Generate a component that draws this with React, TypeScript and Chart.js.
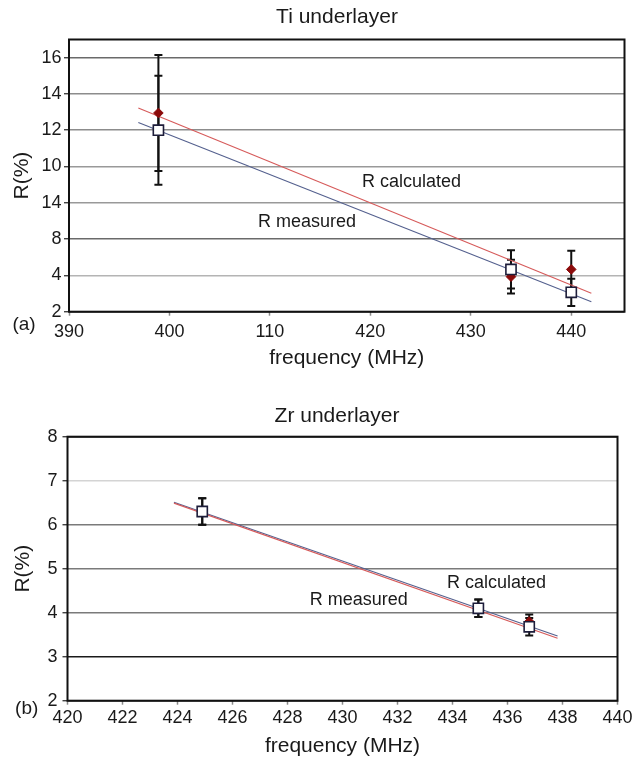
import React, { useEffect, useRef } from "react";
import { Chart, registerables } from "chart.js";

Chart.register(...registerables);

const FONT = '"Liberation Sans", Arial, Helvetica, sans-serif';

// ---------- Panel (a): Ti underlayer ----------
const tiFreq = [398.9, 434.0, 440.0];
const tiMeasured = [12.0, 4.33, 3.07];
const tiMeasuredErr = [3.0, 1.05, 0.75];
const tiCalculated = [12.95, 3.93, 4.33];
const tiCalculatedErr = [3.2, 0.93, 1.03];
const tiCalcLineX = [396.9, 442.0];
const tiCalcLineY = [13.23, 3.02];
const tiMeasLineX = [396.9, 442.0];
const tiMeasLineY = [12.42, 2.55];
const tiXTickValues = [390, 400, 410, 420, 430, 440];
const tiXTickLabels = ["390", "400", "110", "420", "430", "440"];
const tiYTickValues = [2, 4, 6, 8, 10, 12, 14, 16];
const tiYTickLabels = ["2", "4", "8", "14", "10", "12", "14", "16"];

// ---------- Panel (b): Zr underlayer ----------
const zrFreq = [424.9, 434.94, 436.79];
const zrMeasured = [6.3, 4.1, 3.68];
const zrMeasuredErr = [0.3, 0.2, 0.2];
const zrCalculated = [6.3, 4.1, 3.8];
const zrCalculatedErr = [0.3, 0.2, 0.16];
const zrCalcLineX = [423.87, 437.82];
const zrCalcLineY = [6.49, 3.42];
const zrMeasLineX = [423.87, 437.82];
const zrMeasLineY = [6.51, 3.47];
const zrXTickValues = [420, 422, 424, 426, 428, 430, 432, 434, 436, 438, 440];
const zrXTickLabels = ["420", "422", "424", "426", "428", "430", "432", "434", "436", "438", "440"];
const zrYTickValues = [2, 3, 4, 5, 6, 7, 8];
const zrYTickLabels = ["2", "3", "4", "5", "6", "7", "8"];

// ---------- styles ----------
const tiGridColors: Record<number, string> = {
  2: "#111", 4: "#b4b4b4", 6: "#6a6a6a", 8: "#999", 10: "#999", 12: "#8c8c8c", 14: "#8c8c8c", 16: "#6a6a6a",
};
const zrGridColors: Record<number, string> = {
  2: "#111", 3: "#1a1a1a", 4: "#7a7a7a", 5: "#7a7a7a", 6: "#7a7a7a", 7: "#d4d4d4", 8: "#111",
};

type Panel = {
  title: string;
  letter: string;
  freq: number[];
  measured: number[];
  measuredErr: number[];
  calculated: number[];
  calculatedErr: number[];
  calcLineX: number[];
  calcLineY: number[];
  measLineX: number[];
  measLineY: number[];
  xTicks: number[];
  xLabels: string[];
  yTicks: number[];
  yLabels: string[];
  xMin: number;
  xMax: number;
  yMin: number;
  yMax: number;
  gridColors: Record<number, string>;
  calcText: [number, number];
  measText: [number, number];
  layout: {
    height: number;
    padTop: number;
    padRight: number;
    yWidth: number;
    xHeight: number;
    xTickPad: number;
    yTickPad: number;
    xTitlePad: number;
    yTitlePad: number;
    titleX: number;
    titleBaseline: number;
    letterX: number;
    letterY: number;
  };
};

const panels: Panel[] = [
  {
    title: "Ti underlayer",
    letter: "(a)",
    freq: tiFreq,
    measured: tiMeasured,
    measuredErr: tiMeasuredErr,
    calculated: tiCalculated,
    calculatedErr: tiCalculatedErr,
    calcLineX: tiCalcLineX,
    calcLineY: tiCalcLineY,
    measLineX: tiMeasLineX,
    measLineY: tiMeasLineY,
    xTicks: tiXTickValues,
    xLabels: tiXTickLabels,
    yTicks: tiYTickValues,
    yLabels: tiYTickLabels,
    xMin: 390,
    xMax: 445.3,
    yMin: 2,
    yMax: 17,
    gridColors: tiGridColors,
    calcText: [424.1, 9.15],
    measText: [413.7, 6.95],
    layout: {
      height: 380,
      padTop: 39.5,
      padRight: 11.5,
      yWidth: 69,
      xHeight: 68.3,
      xTickPad: 5.5,
      yTickPad: 2.5,
      xTitlePad: 9.4,
      yTitlePad: 9.4,
      titleX: 337,
      titleBaseline: 22.7,
      letterX: 24,
      letterY: 325,
    },
  },
  {
    title: "Zr underlayer",
    letter: "(b)",
    freq: zrFreq,
    measured: zrMeasured,
    measuredErr: zrMeasuredErr,
    calculated: zrCalculated,
    calculatedErr: zrCalculatedErr,
    calcLineX: zrCalcLineX,
    calcLineY: zrCalcLineY,
    measLineX: zrMeasLineX,
    measLineY: zrMeasLineY,
    xTicks: zrXTickValues,
    xLabels: zrXTickLabels,
    yTicks: zrYTickValues,
    yLabels: zrYTickLabels,
    xMin: 420,
    xMax: 440,
    yMin: 2,
    yMax: 8,
    gridColors: zrGridColors,
    calcText: [435.6, 4.67],
    measText: [430.59, 4.29],
    layout: {
      height: 381,
      padTop: 56.7,
      padRight: 18.5,
      yWidth: 67.5,
      xHeight: 60.3,
      xTickPad: 3,
      yTickPad: 5,
      xTitlePad: 2.6,
      yTitlePad: 10.8,
      titleX: 337,
      titleBaseline: 41.7,
      letterX: 26.7,
      letterY: 328.3,
    },
  },
];

function buildConfig(p: Panel): any {
  const L = p.layout;
  const decor = {
    id: "decor",
    beforeDatasetsDraw(chart: any) {
      const { ctx, chartArea: a, scales } = chart;
      const x = scales.x;
      const y = scales.y;
      ctx.save();
      ctx.strokeStyle = "#111";
      ctx.lineWidth = 2;
      ctx.strokeRect(a.left, a.top, a.right - a.left, a.bottom - a.top);
      ctx.lineWidth = 2;
      ctx.strokeStyle = "#111";
      const series = [
        { v: p.calculated, e: p.calculatedErr },
        { v: p.measured, e: p.measuredErr },
      ];
      for (const s of series) {
        for (let i = 0; i < p.freq.length; i++) {
          const px = x.getPixelForValue(p.freq[i]);
          const t = y.getPixelForValue(s.v[i] + s.e[i]);
          const b = y.getPixelForValue(s.v[i] - s.e[i]);
          ctx.beginPath();
          ctx.moveTo(px, t);
          ctx.lineTo(px, b);
          ctx.moveTo(px - 4, t);
          ctx.lineTo(px + 4, t);
          ctx.moveTo(px - 4, b);
          ctx.lineTo(px + 4, b);
          ctx.stroke();
        }
      }
      ctx.restore();
    },
    afterDraw(chart: any) {
      const { ctx, scales } = chart;
      const x = scales.x;
      const y = scales.y;
      ctx.save();
      ctx.fillStyle = "#1a1a1a";
      ctx.textAlign = "center";
      ctx.textBaseline = "alphabetic";
      ctx.font = `21px ${FONT}`;
      ctx.fillText(p.title, L.titleX, L.titleBaseline);
      ctx.textBaseline = "middle";
      ctx.font = `19px ${FONT}`;
      ctx.fillText(p.letter, L.letterX, L.letterY);
      ctx.font = `18px ${FONT}`;
      ctx.fillText("R calculated", x.getPixelForValue(p.calcText[0]), y.getPixelForValue(p.calcText[1]));
      ctx.fillText("R measured", x.getPixelForValue(p.measText[0]), y.getPixelForValue(p.measText[1]));
      ctx.restore();
    },
  };

  return {
    type: "scatter",
    data: {
      datasets: [
        {
          label: "R measured",
          data: p.freq.map((f, i) => ({ x: f, y: p.measured[i] })),
          pointStyle: "rect",
          pointRadius: 7.2,
          backgroundColor: "#ffffff",
          borderColor: "#1d1d3a",
          borderWidth: 1.6,
          showLine: false,
        },
        {
          label: "R calculated",
          data: p.freq.map((f, i) => ({ x: f, y: p.calculated[i] })),
          pointStyle: "rectRot",
          pointRadius: 4.8,
          backgroundColor: "#8b0a0a",
          borderColor: "#8b0a0a",
          borderWidth: 1,
          showLine: false,
        },
        {
          label: "calc fit",
          data: p.calcLineX.map((f, i) => ({ x: f, y: p.calcLineY[i] })),
          showLine: true,
          pointRadius: 0,
          borderColor: "#d65a5a",
          borderWidth: 1.1,
        },
        {
          label: "meas fit",
          data: p.measLineX.map((f, i) => ({ x: f, y: p.measLineY[i] })),
          showLine: true,
          pointRadius: 0,
          borderColor: "#54608e",
          borderWidth: 1.1,
        },
      ],
    },
    options: {
      responsive: false,
      maintainAspectRatio: false,
      animation: false,
      devicePixelRatio: 1,
      layout: { padding: { top: L.padTop, right: L.padRight, bottom: 0, left: 0 } },
      plugins: {
        legend: { display: false },
        title: { display: false },
        tooltip: { enabled: false },
      },
      scales: {
        x: {
          type: "linear",
          position: "bottom",
          min: p.xMin,
          max: p.xMax,
          afterBuildTicks: (s: any) => {
            s.ticks = p.xTicks.map((v) => ({ value: v }));
          },
          afterFit: (s: any) => {
            s.height = L.xHeight;
          },
          border: { display: false },
          grid: {
            display: true,
            drawOnChartArea: false,
            drawTicks: true,
            tickLength: 4,
            tickColor: "#8a8a8a",
            tickWidth: 1.5,
          },
          ticks: {
            autoSkip: false,
            maxRotation: 0,
            padding: L.xTickPad,
            color: "#1a1a1a",
            font: { family: FONT, size: 18 },
            callback: (v: number) => {
              const k = p.xTicks.indexOf(v);
              return k >= 0 ? p.xLabels[k] : "";
            },
          },
          title: {
            display: true,
            text: "frequency (MHz)",
            color: "#1a1a1a",
            font: { family: FONT, size: 21 },
            padding: { top: 0, bottom: L.xTitlePad },
          },
        },
        y: {
          type: "linear",
          position: "left",
          min: p.yMin,
          max: p.yMax,
          afterBuildTicks: (s: any) => {
            s.ticks = p.yTicks.map((v) => ({ value: v }));
          },
          afterFit: (s: any) => {
            s.width = L.yWidth;
          },
          border: { display: false },
          grid: {
            display: true,
            drawOnChartArea: true,
            drawTicks: true,
            tickLength: 5,
            tickColor: "#222",
            tickWidth: 1.2,
            lineWidth: 1.5,
            color: (ctx: any) => {
              const v = ctx.tick ? ctx.tick.value : NaN;
              return p.gridColors[v] || "#999";
            },
          },
          ticks: {
            autoSkip: false,
            padding: L.yTickPad,
            color: "#1a1a1a",
            font: { family: FONT, size: 18 },
            callback: (v: number) => {
              const k = p.yTicks.indexOf(v);
              return k >= 0 ? p.yLabels[k] : "";
            },
          },
          title: {
            display: true,
            text: "R(%)",
            color: "#1a1a1a",
            font: { family: FONT, size: 21 },
            padding: { top: L.yTitlePad, bottom: 0 },
          },
        },
      },
    },
    plugins: [decor],
  };
}

function ChartPanel({ panel }: { panel: Panel }) {
  const ref = useRef<HTMLCanvasElement | null>(null);
  useEffect(() => {
    if (!ref.current) return;
    const chart = new Chart(ref.current, buildConfig(panel));
    return () => chart.destroy();
  }, [panel]);
  return (
    <canvas
      ref={ref}
      width={636}
      height={panel.layout.height}
      style={{ display: "block", width: 636, height: panel.layout.height }}
    />
  );
}

export default function App() {
  return (
    <div
      style={{
        position: "absolute",
        left: 0,
        top: 0,
        width: 636,
        height: 761,
        background: "#ffffff",
      }}
    >
      <ChartPanel panel={panels[0]} />
      <ChartPanel panel={panels[1]} />
    </div>
  );
}
